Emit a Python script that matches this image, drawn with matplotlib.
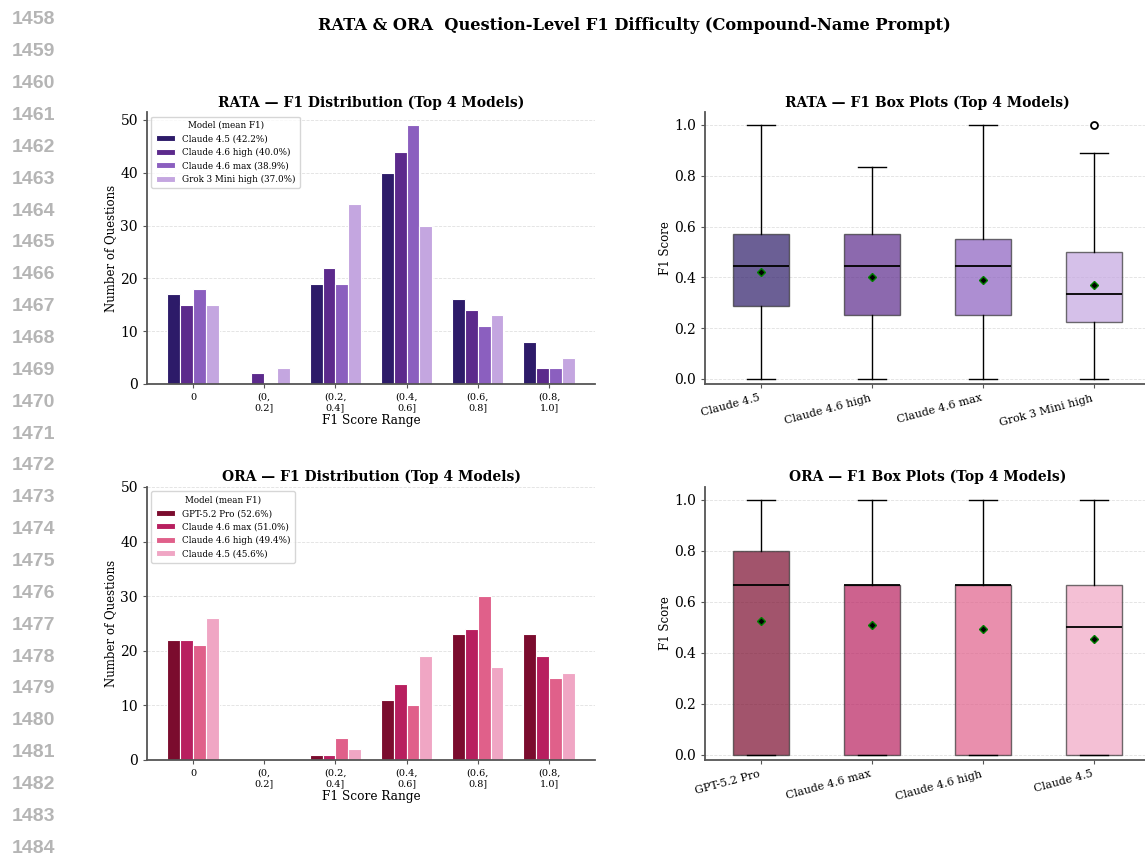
import matplotlib
matplotlib.use('Agg')
import matplotlib.pyplot as plt
import numpy as np

plt.rcParams['font.family'] = 'DejaVu Serif'

# bins of the histogram
bins = ['0', '(0,\n0.2]', '(0.2,\n0.4]', '(0.4,\n0.6]', '(0.6,\n0.8]', '(0.8,\n1.0]']

# RATA counts per bin
rata_models = ['Claude 4.5', 'Claude 4.6 high', 'Claude 4.6 max', 'Grok 3 Mini high']
rata_means = [42.2, 40.0, 38.9, 37.0]
rata_counts = [
    [17, 0, 19, 40, 16, 8],
    [15, 2, 22, 44, 14, 3],
    [18, 0, 19, 49, 11, 3],
    [15, 3, 34, 30, 13, 5],
]
rata_colors = ['#2d1b69', '#5c2a8c', '#8b5fbf', '#c4a6e0']

# ORA counts per bin
ora_models = ['GPT-5.2 Pro', 'Claude 4.6 max', 'Claude 4.6 high', 'Claude 4.5']
ora_means = [52.6, 51.0, 49.4, 45.6]
ora_counts = [
    [22, 0, 1, 11, 23, 23],
    [22, 0, 1, 14, 24, 19],
    [21, 0, 4, 10, 30, 15],
    [26, 0, 2, 19, 17, 16],
]
ora_colors = ['#7b0c2e', '#b81f5f', '#e0608a', '#f0a6c4']

# box plot summaries: whislo, q1, med, q3, whishi, mean, fliers
rata_box = [
    [0.0, 0.286, 0.444, 0.571, 1.0, 0.422, []],
    [0.0, 0.25, 0.444, 0.571, 0.833, 0.400, []],
    [0.0, 0.25, 0.444, 0.55, 1.0, 0.389, []],
    [0.0, 0.222, 0.333, 0.5, 0.889, 0.370, [1.0]],
]
ora_box = [
    [0.0, 0.0, 0.667, 0.8, 1.0, 0.526, []],
    [0.0, 0.0, 0.667, 0.667, 1.0, 0.510, []],
    [0.0, 0.0, 0.667, 0.667, 1.0, 0.494, []],
    [0.0, 0.0, 0.5, 0.667, 1.0, 0.456, []],
]

fig = plt.figure(figsize=(11.45, 8.57), dpi=100)

# page line numbers on the left
for i, n in enumerate(range(1458, 1485)):
    fig.text(55 / 1145, 1 - (20 + i * 31.85) / 857, str(n), ha='right', va='center',
             fontsize=14, fontweight='bold', color='#b5b5b5', family='Liberation Sans')

fig.text(634 / 1145, 1 - 25 / 857, 'RATA & ORA  Question-Level F1 Difficulty (Compound-Name Prompt)',
         ha='center', va='center', fontsize=11.7, fontweight='bold')

ax1 = fig.add_axes([0.1284, 0.552, 0.3913, 0.317])
ax2 = fig.add_axes([0.616, 0.552, 0.388, 0.317])
ax3 = fig.add_axes([0.1284, 0.1132, 0.3913, 0.3186])
ax4 = fig.add_axes([0.616, 0.1132, 0.388, 0.3186])


def style(ax):
    ax.spines['top'].set_visible(False)
    ax.spines['right'].set_visible(False)
    for s in ['left', 'bottom']:
        ax.spines[s].set_color('#555555')
        ax.spines[s].set_linewidth(1.3)
    ax.tick_params(length=3, color='#555555')
    ax.yaxis.grid(True, linestyle='--', color='#cccccc', alpha=0.6, linewidth=0.6)
    ax.set_axisbelow(True)


def bar_panel(ax, title, models, means, counts, colors, ylim=None):
    x = np.arange(len(bins))
    w = 0.18
    for i, (m, mu, c, col) in enumerate(zip(models, means, counts, colors)):
        ax.bar(x + (i - 1.5) * w, c, w, color=col, edgecolor='white', linewidth=0.8,
               label=f'{m} ({mu:.1f}%)')
    ax.set_xticks(x)
    ax.set_xticklabels(bins, fontsize=7)
    ax.tick_params(axis='y', labelsize=10)
    if ylim:
        ax.set_ylim(*ylim)
    ax.set_xlabel('F1 Score Range', fontsize=8.7, labelpad=1)
    ax.set_ylabel('Number of Questions', fontsize=8.5, labelpad=2)
    ax.set_title(title, fontsize=10, fontweight='bold', pad=4)
    ax.legend(title='Model (mean F1)', fontsize=6.3, title_fontsize=6.3, loc='upper left',
              handlelength=2.2, borderpad=0.5, labelspacing=0.5)
    style(ax)


def box_panel(ax, title, models, box, colors):
    stats = []
    for m, b in zip(models, box):
        stats.append(dict(label=m, whislo=b[0], q1=b[1], med=b[2], q3=b[3], whishi=b[4],
                          mean=b[5], fliers=b[6]))
    bp = ax.bxp(stats, showmeans=True, patch_artist=True, widths=0.5,
                meanprops=dict(marker='D', markerfacecolor='black', markeredgecolor='green',
                               markersize=4.5),
                medianprops=dict(color='black', linewidth=1.3),
                flierprops=dict(marker='o', markerfacecolor='white', markeredgecolor='black',
                                markersize=5, markeredgewidth=1.3),
                whiskerprops=dict(linewidth=1), capprops=dict(linewidth=1))
    for patch, col in zip(bp['boxes'], colors):
        patch.set_facecolor(col)
        patch.set_alpha(0.7)
        patch.set_edgecolor('#333333')
    ax.set_ylim(-0.02, 1.05)
    ax.set_xticklabels(models, rotation=15, ha='right', fontsize=8)
    ax.tick_params(axis='y', labelsize=10)
    ax.set_ylabel('F1 Score', fontsize=8.5, labelpad=2)
    ax.set_title(title, fontsize=10, fontweight='bold', pad=4)
    style(ax)


bar_panel(ax1, 'RATA — F1 Distribution (Top 4 Models)', rata_models, rata_means, rata_counts, rata_colors)
box_panel(ax2, 'RATA — F1 Box Plots (Top 4 Models)', rata_models, rata_box, rata_colors)
bar_panel(ax3, 'ORA — F1 Distribution (Top 4 Models)', ora_models, ora_means, ora_counts, ora_colors, ylim=(0, 50))
box_panel(ax4, 'ORA — F1 Box Plots (Top 4 Models)', ora_models, ora_box, ora_colors)

fig.savefig('out.png', dpi=100)
